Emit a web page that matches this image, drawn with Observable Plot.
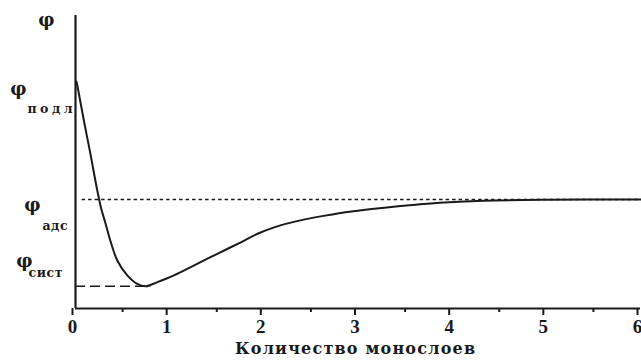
<!DOCTYPE html>
<html><head><meta charset="utf-8">
<script src="https://cdn.jsdelivr.net/npm/d3@7"></script>
<script src="https://cdn.jsdelivr.net/npm/@observablehq/plot@0.6"></script>
<style>body{margin:0;background:#fff}</style>
</head><body><div id="chart"></div>
<script>
// Data
const monolayers = [0.01, 0.02, 0.09, 0.16, 0.23, 0.27, 0.319, 0.372, 0.444, 0.55, 0.656, 0.745, 0.869, 1.046, 1.223, 1.401, 1.578, 1.755, 1.933, 2.11, 2.287, 2.45, 2.65, 2.93, 3.28, 3.64, 3.92, 4.34, 5.0, 6.0];
const potential  = [0.775, 0.76, 0.64, 0.525, 0.405, 0.345, 0.290, 0.229, 0.164, 0.113, 0.084, 0.076, 0.090, 0.113, 0.141, 0.170, 0.198, 0.226, 0.255, 0.277, 0.293, 0.305, 0.317, 0.331, 0.344, 0.355, 0.362, 0.368, 0.371, 0.372];
const phiAds = 0.372;
const phiSyst = 0.076;
const majorTicks = [0, 1, 2, 3, 4, 5, 6];
const minorTicks = [0.5, 1.5, 2.5, 3.5, 4.5, 5.5];
const xTitle = "Количество монослоев";
const symbolLabels = ["φ", "φ", "φ", "φ"];
const symbolLevels = [0.983, 0.747, 0.352, 0.160];
const subLabels = ["подл", "адс", "сист"];
const subLevels = [0.681, 0.283, 0.12];

const data = monolayers.map((x, i) => ({x, y: potential[i]}));

// layout offsets (pixels) for annotation labels
const symbolDx = [-29, -57, -43, -51];
const subDx = [-48, -33, -47];
const subWidth = [45, 25, 34];
const titleWidth = 240;

const ink = "#1a1a1a";
const marks = [
  Plot.ruleY([phiAds], {x1: 0.07, x2: 6, stroke: ink, strokeWidth: 1.6, strokeDasharray: "3.5,3"}),
  Plot.ruleY([phiSyst], {x1: 0, x2: 0.8, stroke: ink, strokeWidth: 1.4, strokeDasharray: "10,5"}),
  Plot.line(data, {x: "x", y: "y", curve: "catmull-rom", stroke: ink, strokeWidth: 2}),
  Plot.ruleX([0], {y1: 0, y2: 1, stroke: ink, strokeWidth: 2.2}),
  Plot.ruleY([0], {x1: 0, x2: 6, stroke: ink, strokeWidth: 2.2}),
  Plot.axisX({ticks: majorTicks, tickSize: 7, tickPadding: 4, tickFormat: d => String(d), fontSize: 19, dx: -3, stroke: ink, strokeWidth: 2, label: null, color: ink}),
  Plot.axisX({ticks: minorTicks, tickSize: 4, tickFormat: () => "", label: null, stroke: ink, strokeWidth: 2}),
  Plot.text([xTitle], {x: 3, frameAnchor: "bottom", dy: 45, dx: -3, lineAnchor: "bottom", fontSize: 16, fill: ink}),
  ...symbolLabels.map((s, i) => Plot.text([s], {x: 0, y: symbolLevels[i], dx: symbolDx[i], fontSize: 18, fill: ink})),
  ...subLabels.map((s, i) => Plot.text([s], {x: 0, y: subLevels[i], dx: subDx[i], textAnchor: "start", fontSize: 12.5, fill: ink}))
];

const svg = Plot.plot({
  width: 641,
  height: 360,
  marginLeft: 75,
  marginRight: 1,
  marginTop: 15,
  marginBottom: 52,
  x: {domain: [0, 6]},
  y: {domain: [0, 1], axis: null},
  style: {background: "#fff", color: ink, overflow: "visible"},
  marks
});

d3.select(svg).selectAll("text").each(function() {
  const t = this.textContent;
  const k = subLabels.indexOf(t);
  this.style.fontWeight = "bold";
  if (k >= 0) {
    this.style.fontFamily = "'DejaVu Serif', serif";
    this.setAttribute("textLength", subWidth[k]);
    this.setAttribute("lengthAdjust", "spacing");
  } else if (t === xTitle) {
    this.style.fontFamily = "'DejaVu Serif', serif";
    this.setAttribute("textLength", titleWidth);
    this.setAttribute("lengthAdjust", "spacing");
  } else if (t === "φ") {
    this.style.fontFamily = "'DejaVu Serif', serif";
  } else {
    this.style.fontFamily = "'Liberation Serif', serif";
  }
});
document.getElementById("chart").appendChild(svg);
</script>
</body></html>
